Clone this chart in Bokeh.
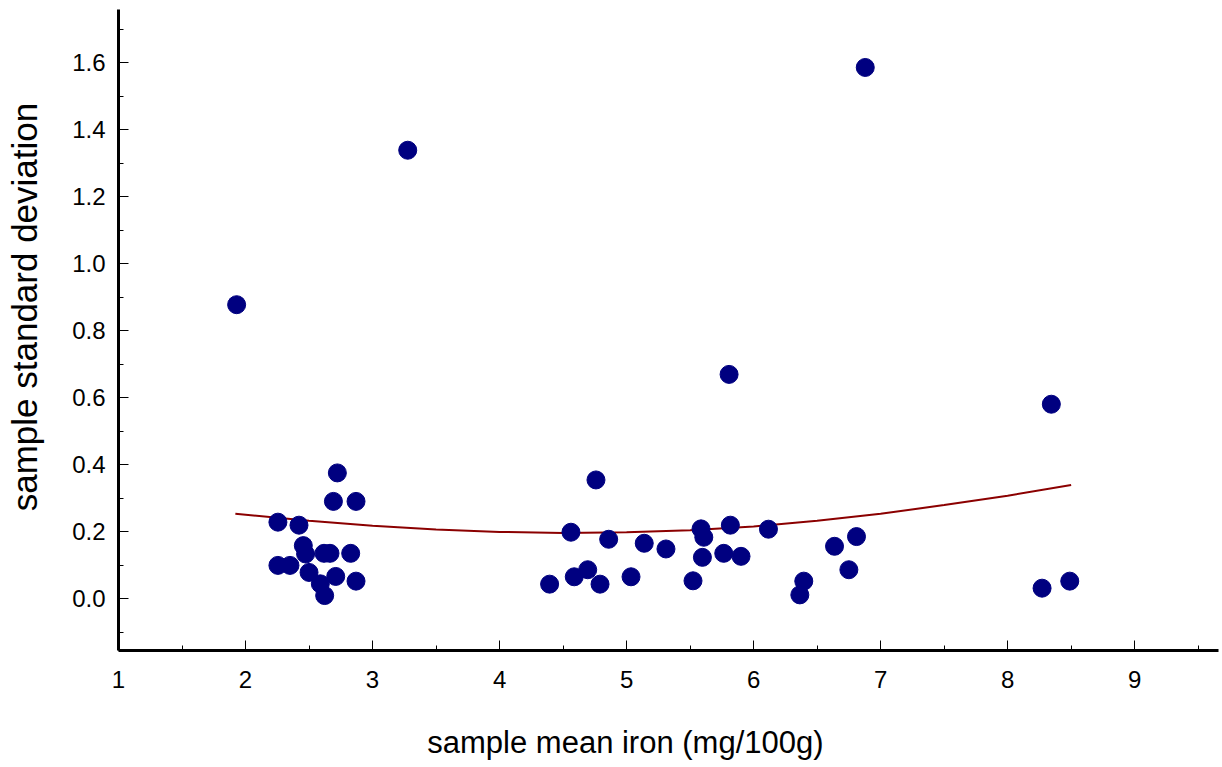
from bokeh.plotting import figure
from bokeh.models import FixedTicker, PrintfTickFormatter, Range1d
from bokeh.embed import file_html
from bokeh.resources import INLINE

# sample mean iron (mg/100g) and sample standard deviation
mean_iron = [
    2.723, 2.692, 2.870, 2.255, 2.421, 2.455, 2.473, 2.618, 2.665, 2.828,
    2.255, 2.350, 2.500, 2.710, 2.870, 2.589, 2.623,
    1.930, 3.277, 6.879, 5.807, 8.344,
    4.759, 4.562, 4.859, 5.139, 5.310, 5.586, 5.608, 5.817, 6.117, 5.597,
    5.765, 5.901, 4.394, 4.588, 4.694, 4.791, 5.035, 5.523, 6.395, 6.364,
    6.637, 6.810, 6.750, 8.271, 8.489,
]
sd_iron = [
    0.376, 0.291, 0.291, 0.229, 0.220, 0.159, 0.134, 0.136, 0.136, 0.136,
    0.100, 0.100, 0.079, 0.067, 0.053, 0.045, 0.010,
    0.878, 1.339, 1.586, 0.670, 0.581,
    0.355, 0.199, 0.178, 0.166, 0.149, 0.209, 0.184, 0.220, 0.208, 0.124,
    0.136, 0.127, 0.044, 0.066, 0.087, 0.044, 0.066, 0.054, 0.053, 0.012,
    0.157, 0.186, 0.087, 0.032, 0.053,
]

# fitted trend curve
curve_x = [1.92, 2.5, 3.0, 3.5, 4.0, 4.5, 5.0, 5.5, 6.0, 6.5, 7.0, 7.5, 8.0, 8.5]
curve_y = [0.254, 0.233, 0.218, 0.207, 0.200, 0.197, 0.199, 0.205, 0.216,
           0.233, 0.254, 0.280, 0.308, 0.340]

x_ticks = [1, 2, 3, 4, 5, 6, 7, 8, 9]
x_minor = [1.5, 2.5, 3.5, 4.5, 5.5, 6.5, 7.5, 8.5, 9.5]
y_ticks = [0.0, 0.2, 0.4, 0.6, 0.8, 1.0, 1.2, 1.4, 1.6]
y_minor = [-0.1, 0.1, 0.3, 0.5, 0.7, 0.9, 1.1, 1.3, 1.5, 1.7]

x_title = "sample mean iron (mg/100g)"
y_title = "sample standard deviation"

FONT = "Liberation Sans"
NBSP = "\u00a0"

p = figure(width=1221, height=766, output_backend="svg", toolbar_location=None,
           x_range=Range1d(1.0, 9.66), y_range=Range1d(-0.154, 1.759),
           min_border_left=118, min_border_right=3, min_border_top=9,
           min_border_bottom=116)
p.outline_line_color = None
p.grid.visible = False
p.background_fill_color = "white"
p.border_fill_color = "white"

p.line(curve_x, curve_y, line_color="#8b0000", line_width=2)
p.scatter(mean_iron, sd_iron, size=18, fill_color="#000080", line_color="#000080")

for ax in (p.xaxis[0], p.yaxis[0]):
    ax.axis_line_width = 3
    ax.axis_line_color = "black"
    ax.major_tick_in = 10
    ax.major_tick_out = 0
    ax.minor_tick_in = 5
    ax.minor_tick_out = 0
    ax.major_tick_line_color = "black"
    ax.minor_tick_line_color = "black"
    ax.major_tick_line_width = 1
    ax.minor_tick_line_width = 1
    ax.major_label_text_font = FONT
    ax.major_label_text_font_size = "24px"
    ax.major_label_text_color = "black"
    ax.axis_label_text_font = FONT
    ax.axis_label_text_font_style = "normal"
    ax.axis_label_text_color = "black"

p.xaxis.ticker = FixedTicker(ticks=x_ticks, minor_ticks=x_minor)
p.yaxis.ticker = FixedTicker(ticks=y_ticks, minor_ticks=y_minor)
p.yaxis.formatter = PrintfTickFormatter(format="%.1f")
p.xaxis.major_label_standoff = 20
p.yaxis.major_label_standoff = 13

# titles sit off-centre in the original: pad with no-break spaces
p.xaxis.axis_label = x_title + NBSP * 10
p.yaxis.axis_label = NBSP * 4 + "\u2009" + y_title
p.xaxis.axis_label_text_font_size = "31px"
p.yaxis.axis_label_text_font_size = "35px"
p.xaxis.axis_label_standoff = 34
p.yaxis.axis_label_standoff = 25

open("out.html", "w").write(file_html(p, INLINE))
